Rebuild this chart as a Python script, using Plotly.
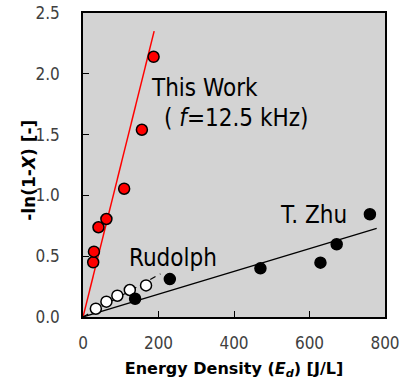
import plotly.graph_objects as go

# This Work (red)
tw_x = [27, 29, 41, 62, 109, 156, 187]
tw_y = [0.45, 0.537, 0.738, 0.806, 1.055, 1.54, 2.14]
# Rudolph (open)
ru_x = [34, 62, 91, 124, 167]
ru_y = [0.068, 0.126, 0.175, 0.222, 0.26]
# T. Zhu (filled black)
tz_x = [138, 230, 470, 629, 672, 760]
tz_y = [0.15, 0.312, 0.40, 0.447, 0.598, 0.845]

# linear fits through origin: slope, x-range end
tw_slope, tw_xmax = 0.01247, 188.5
ru_slope, ru_xmax = 0.00173, 205
tz_slope, tz_xmax = 0.000937, 778

x_ticks = [0, 200, 400, 600, 800]
y_ticks = [0.0, 0.5, 1.0, 1.5, 2.0, 2.5]

fig = go.Figure()

fig.add_trace(go.Scatter(x=[0, tw_xmax], y=[0, tw_slope * tw_xmax], mode="lines",
                         line=dict(color="#ff0000", width=1.5), showlegend=False))
fig.add_trace(go.Scatter(x=[0, ru_xmax], y=[0, ru_slope * ru_xmax], mode="lines",
                         line=dict(color="black", width=1.2, dash="6px,5px"), showlegend=False))
fig.add_trace(go.Scatter(x=[0, tz_xmax], y=[0, tz_slope * tz_xmax], mode="lines",
                         line=dict(color="black", width=1.2), showlegend=False))

fig.add_trace(go.Scatter(x=tw_x, y=tw_y, mode="markers",
                         marker=dict(size=11, color="#ff0000", line=dict(color="black", width=1.5)),
                         showlegend=False))
fig.add_trace(go.Scatter(x=ru_x, y=ru_y, mode="markers",
                         marker=dict(size=11, color="white", line=dict(color="black", width=1.5)),
                         showlegend=False))
fig.add_trace(go.Scatter(x=tz_x, y=tz_y, mode="markers",
                         marker=dict(size=11, color="black", line=dict(color="black", width=1.5)),
                         showlegend=False))

afont = dict(family="DejaVu Sans Condensed, Tahoma, DejaVu Sans", size=24, color="black")
anns = [
    dict(x=175, y=1.88, text="This Work"),
    dict(x=208, y=1.64, text="( <i>f</i>=12.5 kHz)"),
    dict(x=117, y=0.485, text="Rudolph"),
    dict(x=516, y=0.84, text="T. Zhu"),
]
for a in anns:
    fig.add_annotation(x=a["x"], y=a["y"], text=a["text"], showarrow=False,
                       xanchor="left", yanchor="middle", font=afont)

tickfont = dict(family="DejaVu Sans Condensed, Tahoma, DejaVu Sans", size=17, color="#404040")
titlefont_x = dict(family="DejaVu Sans, Verdana", size=16, color="black", weight="bold")
titlefont_y = dict(family="DejaVu Sans, Verdana", size=17, color="black", weight="bold")

# y-axis title as a rotated annotation
fig.add_annotation(xref="paper", yref="paper", x=-0.179, y=0.484,
                   text="<b>-ln(1-<i>X</i>) [-]</b>", textangle=-90, showarrow=False,
                   xanchor="center", yanchor="middle", font=titlefont_y)

fig.update_xaxes(range=[0, 800], tickvals=x_ticks, ticks="inside", ticklen=6, tickwidth=1.2,
                 tickcolor="black", showline=True, linecolor="black", linewidth=1.5, mirror=True,
                 showgrid=False, zeroline=False, tickfont=tickfont, ticklabelstandoff=10,
                 automargin=False,
                 title=dict(text="<b>Energy Density (<i>E<sub>d</sub></i>) [J/L]</b>", font=titlefont_x, standoff=11))
fig.update_yaxes(range=[0, 2.5], tickvals=y_ticks, tickformat=".1f", ticks="inside", ticklen=6,
                 tickwidth=1.2, tickcolor="black", showline=True, linecolor="black", linewidth=1.5,
                 mirror=True, showgrid=False, zeroline=False, tickfont=tickfont, ticklabelstandoff=18,
                 automargin=False)

fig.update_layout(width=401, height=380, margin=dict(l=83, r=16, t=13, b=63),
                  plot_bgcolor="#d3d3d3", paper_bgcolor="white")

fig.write_html("out.html")
